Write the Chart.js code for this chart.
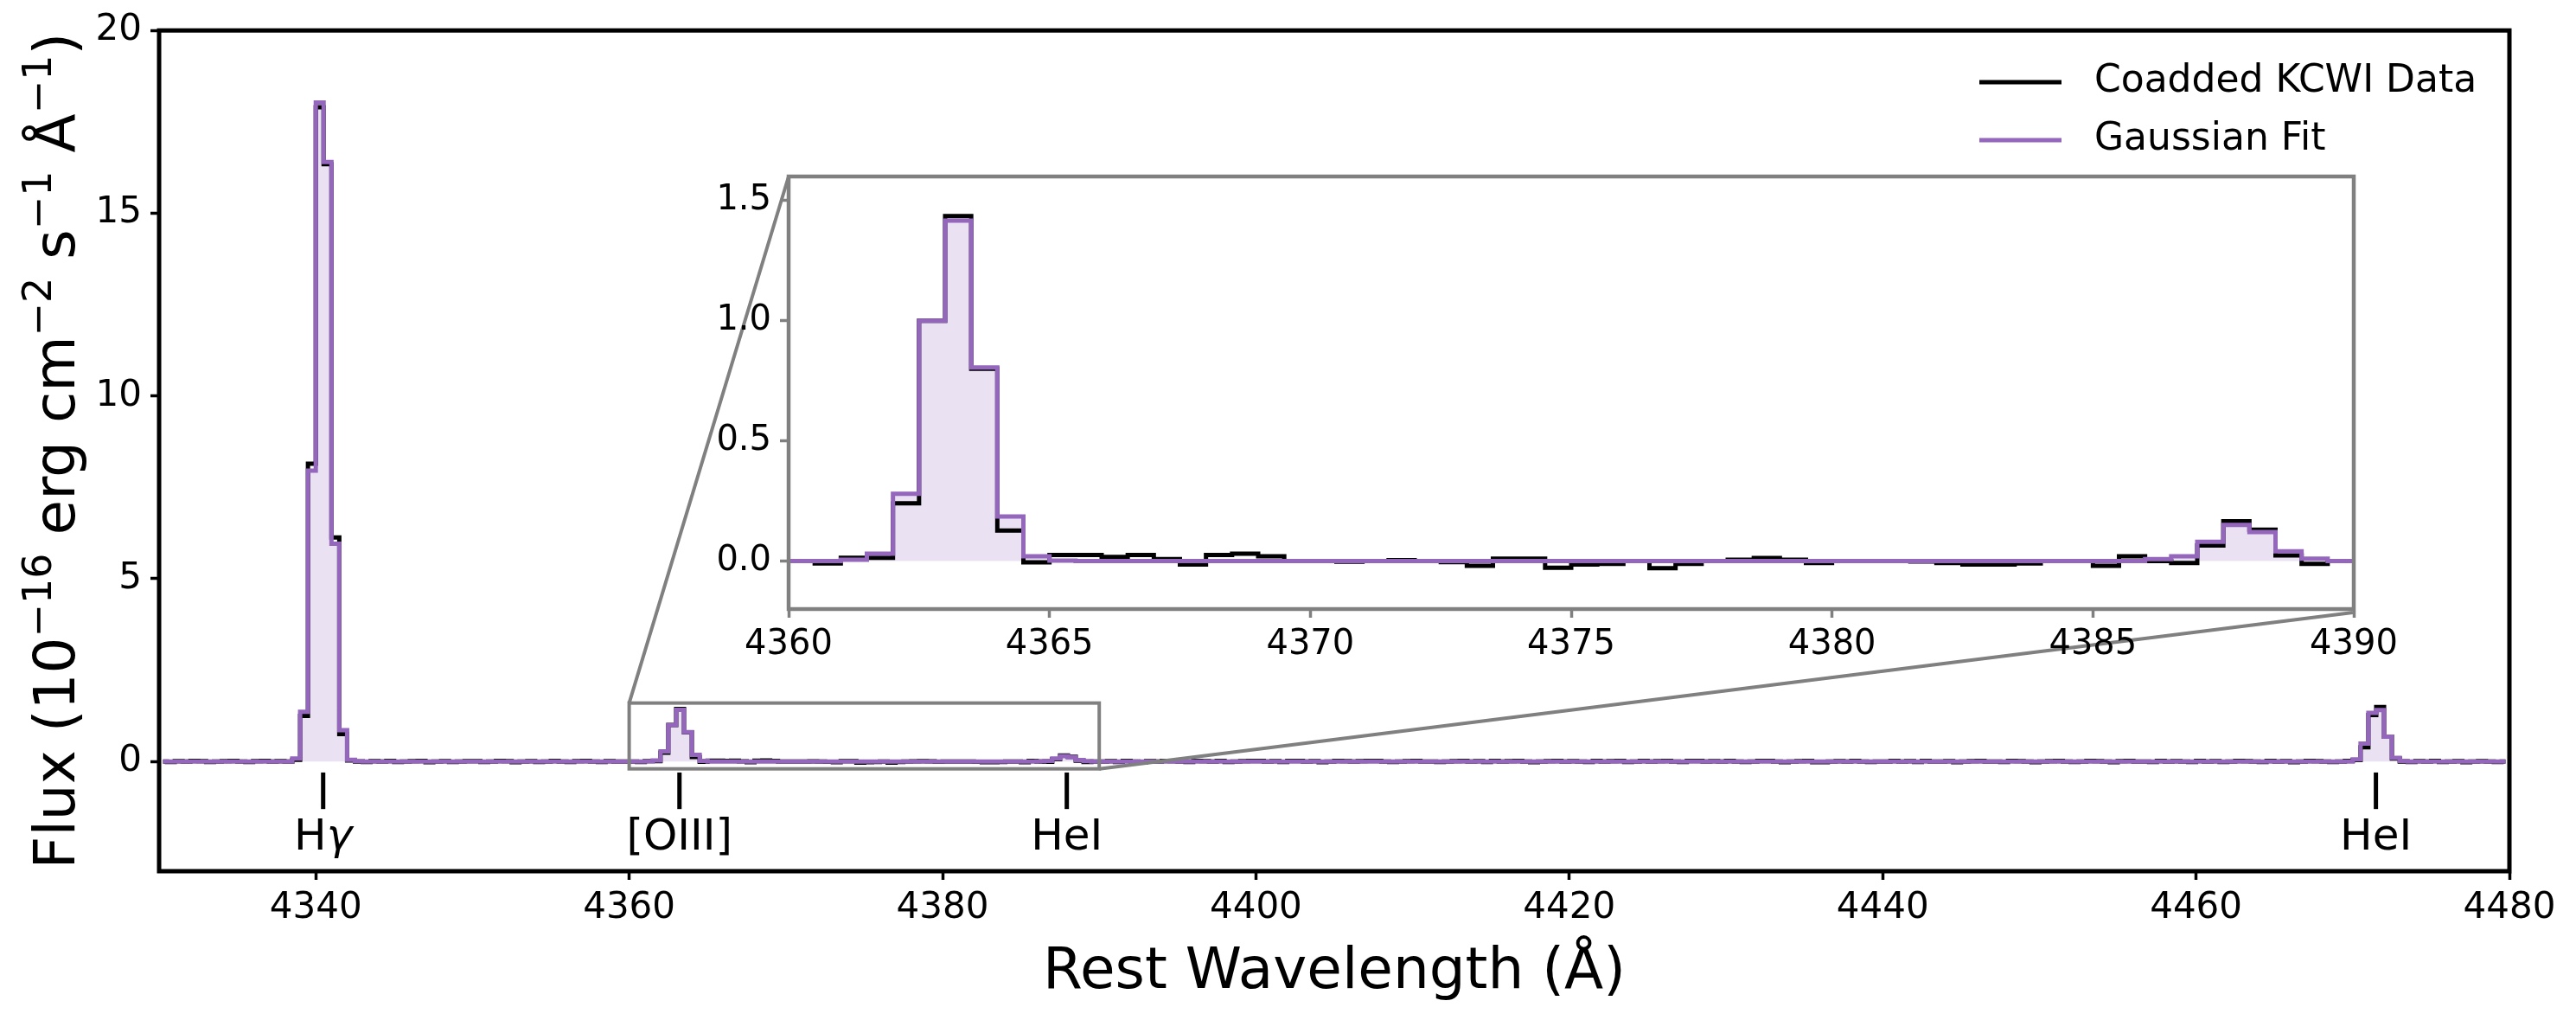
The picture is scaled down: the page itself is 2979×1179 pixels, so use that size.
<!DOCTYPE html>
<html>
<head>
<meta charset="utf-8">
<script src="https://cdn.jsdelivr.net/npm/chart.js@4.4.1/dist/chart.umd.min.js"></script>
<style>
    html, body { margin: 0; padding: 0; background: #fff; }
    #wrap { position: relative; width: 2979px; height: 1179px; overflow: hidden; }
    #mainChart { position: absolute; left: 0; top: 0; }
    #insetChart { position: absolute; left: 792px; top: 174px; }
</style>
</head>
<body>
<div id="wrap">
    <canvas id="mainChart" width="2979" height="1179"></canvas>
    <canvas id="insetChart" width="1990" height="624"></canvas>
</div>
<script>
// spectrum sampled in 0.5 A bins from 4330 to 4480 A
const binStart = 4330;
const binWidth = 0.5;

// coadded data, 20 bins (10 A) per row
const fluxData = [
    0.00, -0.01, 0.01, 0.00, 0.02, 0.01, -0.01, 0.00, 0.01, 0.02, 0.00, -0.01, 0.01, 0.02, 0.00, 0.01, 0.00, 0.05, 1.25, 8.15,
    17.90, 16.34, 6.13, 0.75, 0.03, 0.00, -0.01, 0.01, 0.00, 0.02, -0.01, 0.00, 0.01, 0.02, -0.02, 0.00, 0.01, -0.01, 0.00, 0.01,
    0.01, -0.01, 0.00, 0.02, 0.01, -0.02, 0.00, 0.01, -0.01, 0.00, 0.02, 0.00, -0.01, 0.01, 0.02, 0.00, -0.01, 0.01, 0.00, 0.00,
    0.00, -0.01, 0.013, 0.013, 0.24, 1.00, 1.435, 0.80, 0.127, -0.006, 0.025, 0.025, 0.017, 0.025, 0.008, -0.015, 0.025, 0.03, 0.02, 0.00,
    0.00, -0.003, 0.00, 0.003, 0.00, -0.005, -0.02, 0.01, 0.01, -0.028, -0.015, -0.012, 0.00, -0.03, -0.012, 0.00, 0.005, 0.012, 0.005, -0.008,
    0.00, 0.00, 0.00, -0.002, -0.008, -0.015, -0.015, -0.01, 0.00, 0.00, -0.02, 0.02, 0.00, -0.008, 0.065, 0.165, 0.13, 0.023, -0.012, 0.00,
    0.00, 0.01, -0.01, 0.02, 0.00, -0.02, 0.01, 0.00, 0.02, 0.01, 0.00, -0.01, 0.02, 0.01, 0.00, 0.02, -0.01, 0.00, 0.01, 0.02,
    0.02, 0.00, 0.01, -0.01, 0.02, 0.02, 0.00, 0.01, -0.02, 0.00, 0.02, 0.01, 0.00, 0.01, 0.02, 0.02, 0.00, -0.01, 0.00, 0.01,
    0.02, 0.00, 0.00, -0.01, 0.00, 0.01, 0.02, 0.00, 0.01, -0.01, 0.02, 0.00, 0.01, 0.02, 0.00, -0.02, 0.00, 0.01, 0.02, 0.00,
    0.01, 0.00, -0.01, 0.02, 0.00, 0.01, 0.02, -0.01, 0.00, 0.02, 0.00, 0.01, 0.02, 0.00, -0.01, 0.02, 0.02, 0.00, 0.01, 0.00,
    0.02, 0.00, -0.01, 0.00, 0.02, 0.02, 0.00, -0.02, 0.00, 0.01, 0.02, -0.02, -0.02, 0.00, 0.01, 0.00, 0.02, 0.00, -0.01, 0.00,
    0.00, 0.02, 0.00, 0.01, -0.01, 0.02, 0.00, 0.00, 0.01, -0.02, 0.00, 0.01, 0.02, 0.00, 0.00, -0.01, 0.02, 0.01, 0.00, -0.02,
    0.00, 0.01, 0.02, 0.00, -0.01, 0.00, 0.02, 0.01, 0.00, -0.02, 0.01, 0.02, 0.00, 0.00, -0.01, 0.02, 0.00, 0.01, 0.00, -0.01,
    0.02, 0.00, 0.01, -0.01, 0.00, 0.02, 0.01, 0.00, -0.01, 0.02, 0.00, 0.01, -0.02, 0.00, 0.02, 0.01, 0.00, -0.01, 0.00, 0.02,
    0.04, 0.39, 1.27, 1.49, 0.68, 0.08, 0.00, -0.01, 0.01, 0.00, 0.02, -0.01, 0.00, 0.01, -0.02, 0.00, 0.01, 0.00, -0.01, 0.00
];

// gaussian fit, same bins
const fluxFit = [
    0, 0, 0, 0, 0, 0, 0, 0, 0, 0, 0, 0, 0, 0, 0, 0, 0, 0.08, 1.36, 7.96,
    18.03, 16.40, 5.96, 0.86, 0.05, 0.01, 0, 0, 0, 0, 0, 0, 0, 0, 0, 0, 0, 0, 0, 0,
    0, 0, 0, 0, 0, 0, 0, 0, 0, 0, 0, 0, 0, 0, 0, 0, 0, 0, 0, 0,
    0, 0, 0.005, 0.03, 0.28, 1.00, 1.416, 0.805, 0.185, 0.02, 0.002, 0, 0, 0, 0, 0, 0, 0, 0, 0,
    0, 0, 0, 0, 0, 0, 0, 0, 0, 0, 0, 0, 0, 0, 0, 0, 0, 0, 0, 0,
    0, 0, 0, 0, 0, 0, 0, 0, 0, 0, 0, 0, 0.008, 0.02, 0.08, 0.15, 0.12, 0.04, 0.01, 0,
    0, 0, 0, 0, 0, 0, 0, 0, 0, 0, 0, 0, 0, 0, 0, 0, 0, 0, 0, 0,
    0, 0, 0, 0, 0, 0, 0, 0, 0, 0, 0, 0, 0, 0, 0, 0, 0, 0, 0, 0,
    0, 0, 0, 0, 0, 0, 0, 0, 0, 0, 0, 0, 0, 0, 0, 0, 0, 0, 0, 0,
    0, 0, 0, 0, 0, 0, 0, 0, 0, 0, 0, 0, 0, 0, 0, 0, 0, 0, 0, 0,
    0, 0, 0, 0, 0, 0, 0, 0, 0, 0, 0, 0, 0, 0, 0, 0, 0, 0, 0, 0,
    0, 0, 0, 0, 0, 0, 0, 0, 0, 0, 0, 0, 0, 0, 0, 0, 0, 0, 0, 0,
    0, 0, 0, 0, 0, 0, 0, 0, 0, 0, 0, 0, 0, 0, 0, 0, 0, 0, 0, 0,
    0, 0, 0, 0, 0, 0, 0, 0, 0, 0, 0, 0, 0, 0, 0, 0, 0, 0, 0, 0,
    0.06, 0.49, 1.33, 1.41, 0.68, 0.10, 0.02, 0, 0, 0, 0, 0, 0, 0, 0, 0, 0, 0, 0, 0
];

const xTicks = [4340, 4360, 4380, 4400, 4420, 4440, 4460, 4480];
const yTicks = [0, 5, 10, 15, 20];
const insetXTicks = [4360, 4365, 4370, 4375, 4380, 4385, 4390];
const insetYTicks = [0.0, 0.5, 1.0, 1.5];

const lineNames = ['H', '[OIII]', 'HeI', 'HeI'];
const lineGreek = ['\u03b3', '', '', ''];
const lineWaves = [4340.47, 4363.21, 4387.93, 4471.48];

const zoomX = [4360, 4390];
const zoomY = [-0.2, 1.6];

const insetBox = { left: 912, top: 204, right: 2721, bottom: 708 };

const purple = '#9467bd';
const grey = '#808080';
const font = 'DejaVu Sans';

Chart.defaults.font.family = font;
Chart.defaults.color = '#000';

const wave = fluxData.map((_, i) => binStart + binWidth * (i + 0.5));
const dataPoints = fluxData.map((v, i) => ({ x: wave[i], y: v }));
const fitPoints = fluxFit.map((v, i) => ({ x: wave[i], y: v }));

function makeDatasets() {
    return [
        {
            label: 'Coadded KCWI Data',
            data: dataPoints,
            borderColor: '#000',
            borderWidth: 5,
            stepped: 'middle',
            pointRadius: 0,
            fill: false,
            order: 2
        },
        {
            label: 'Gaussian Fit',
            data: fitPoints,
            borderColor: purple,
            backgroundColor: 'rgba(148, 103, 189, 0.2)',
            borderWidth: 5,
            stepped: 'middle',
            pointRadius: 0,
            fill: 'origin',
            order: 1
        }
    ];
}

function fixedTicks(values) {
    return scale => { scale.ticks = values.map(v => ({ value: v })); };
}

function drawText(ctx, text, x, y, size, align, style) {
    ctx.font = (style || '') + ' ' + size + 'px "' + font + '"';
    ctx.textAlign = align || 'center';
    ctx.fillText(text, x, y);
}

const mainDecor = {
    id: 'mainDecor',
    afterDatasetsDraw(chart) {
        const ctx = chart.ctx;
        const xs = chart.scales.x;
        const ys = chart.scales.y;
        const area = chart.chartArea;

        // zoom box and connectors to the inset
        const x0 = xs.getPixelForValue(zoomX[0]);
        const x1 = xs.getPixelForValue(zoomX[1]);
        const y0 = ys.getPixelForValue(zoomY[1]);
        const y1 = ys.getPixelForValue(zoomY[0]);
        ctx.save();
        ctx.strokeStyle = grey;
        ctx.lineWidth = 4;
        ctx.strokeRect(x0, y0, x1 - x0, y1 - y0);
        ctx.beginPath();
        ctx.moveTo(x0, y0);
        ctx.lineTo(insetBox.left, insetBox.top);
        ctx.moveTo(x1, y1);
        ctx.lineTo(insetBox.right, insetBox.bottom);
        ctx.stroke();

        // emission line markers
        ctx.strokeStyle = '#000';
        ctx.lineWidth = 5;
        ctx.fillStyle = '#000';
        ctx.textBaseline = 'middle';
        lineWaves.forEach((w, i) => {
            const px = xs.getPixelForValue(w);
            ctx.beginPath();
            ctx.moveTo(px, ys.getPixelForValue(-0.3));
            ctx.lineTo(px, ys.getPixelForValue(-1.3));
            ctx.stroke();
            const ly = ys.getPixelForValue(-2.1);
            ctx.font = '50px "' + font + '"';
            const w1 = ctx.measureText(lineNames[i]).width;
            ctx.font = 'italic 50px "' + font + '"';
            const w2 = ctx.measureText(lineGreek[i]).width;
            const start = px - (w1 + w2) / 2;
            drawText(ctx, lineNames[i], start, ly, 50, 'left');
            if (lineGreek[i]) drawText(ctx, lineGreek[i], start + w1, ly, 50, 'left', 'italic');
        });

        // spines
        ctx.strokeStyle = '#000';
        ctx.lineWidth = 5;
        ctx.strokeRect(area.left, area.top, area.right - area.left, area.bottom - area.top);

        // legend
        ctx.textBaseline = 'middle';
        chart.data.datasets.forEach((ds, i) => {
            const ly = 95 + i * 67;
            ctx.strokeStyle = ds.borderColor;
            ctx.lineWidth = 5;
            ctx.beginPath();
            ctx.moveTo(2289, ly);
            ctx.lineTo(2384, ly);
            ctx.stroke();
            ctx.fillStyle = '#000';
            drawText(ctx, ds.label, 2422, ly, 44, 'left');
        });

        // axis titles
        ctx.textBaseline = 'middle';
        drawText(ctx, 'Rest Wavelength (\u00c5)', (area.left + area.right) / 2, 1125, 66, 'center');

        const parts = [
            ['Flux (10', false], ['\u221216', true], [' erg cm', false], ['\u22122', true],
            [' s', false], ['\u22121', true], [' \u00c5', false], ['\u22121', true], [')', false]
        ];
        ctx.textBaseline = 'alphabetic';
        let total = 0;
        parts.forEach(p => {
            ctx.font = (p[1] ? 46 : 66) + 'px "' + font + '"';
            total += ctx.measureText(p[0]).width;
        });
        ctx.translate(86, (area.top + area.bottom) / 2);
        ctx.rotate(-Math.PI / 2);
        let cx = -total / 2;
        parts.forEach(p => {
            const size = p[1] ? 46 : 66;
            drawText(ctx, p[0], cx, p[1] ? -27 : 0, size, 'left');
            cx += ctx.measureText(p[0]).width;
        });
        ctx.restore();
    }
};

const insetDecor = {
    id: 'insetDecor',
    beforeDraw(chart) {
        const a = chart.chartArea;
        chart.ctx.save();
        chart.ctx.fillStyle = '#fff';
        chart.ctx.fillRect(a.left, a.top, a.right - a.left, a.bottom - a.top);
        chart.ctx.restore();
    },
    afterDatasetsDraw(chart) {
        const a = chart.chartArea;
        const ctx = chart.ctx;
        ctx.save();
        ctx.strokeStyle = grey;
        ctx.lineWidth = 4.5;
        ctx.strokeRect(a.left, a.top, a.right - a.left, a.bottom - a.top);
        ctx.restore();
    }
};

function axisOptions(min, max, ticks, color, tickFont, pad, digits) {
    return {
        type: 'linear',
        min: min,
        max: max,
        afterBuildTicks: fixedTicks(ticks),
        ticks: { font: { size: tickFont }, color: '#000', padding: pad, callback: v => v.toFixed(digits) },
        grid: { display: true, drawOnChartArea: false, drawTicks: true, tickLength: 10, tickWidth: 3.5, tickColor: color },
        border: { display: true, color: color, width: 4 }
    };
}

const mainX = axisOptions(4330, 4480, xTicks, '#000', 42, 8, 0);
mainX.afterFit = s => { s.height = 1179 - 1007; };
const mainY = axisOptions(-3, 20, yTicks, '#000', 42, 10, 0);
mainY.afterFit = s => { s.width = 184; };

new Chart(document.getElementById('mainChart').getContext('2d'), {
    type: 'line',
    data: { datasets: makeDatasets() },
    options: {
        responsive: false,
        animation: false,
        devicePixelRatio: 1,
        layout: { padding: { left: 0, right: 77, top: 35, bottom: 0 } },
        scales: { x: mainX, y: mainY },
        plugins: {
            legend: { display: false },
            tooltip: { enabled: false },
            filler: { drawTime: 'beforeDatasetsDraw' }
        }
    },
    plugins: [mainDecor]
});

const insetX = axisOptions(4360, 4390, insetXTicks, grey, 40, 8, 0);
insetX.afterFit = s => { s.height = 90; };
const insetY = axisOptions(-0.2, 1.6, insetYTicks, grey, 40, 10, 1);
insetY.afterFit = s => { s.width = 120; };

const insetCanvas = document.getElementById('insetChart');
const inset = new Chart(insetCanvas.getContext('2d'), {
    type: 'line',
    data: { datasets: makeDatasets() },
    options: {
        responsive: false,
        animation: false,
        devicePixelRatio: 1,
        layout: { padding: { left: 0, right: 60, top: 30, bottom: 0 } },
        scales: { x: insetX, y: insetY },
        plugins: {
            legend: { display: false },
            tooltip: { enabled: false },
            filler: { drawTime: 'beforeDatasetsDraw' }
        }
    },
    plugins: [insetDecor]
});

// line the inset plot area up with its box in the figure
insetCanvas.style.left = (insetBox.left - inset.chartArea.left) + 'px';
insetCanvas.style.top = (insetBox.top - inset.chartArea.top) + 'px';
</script>
</body>
</html>
